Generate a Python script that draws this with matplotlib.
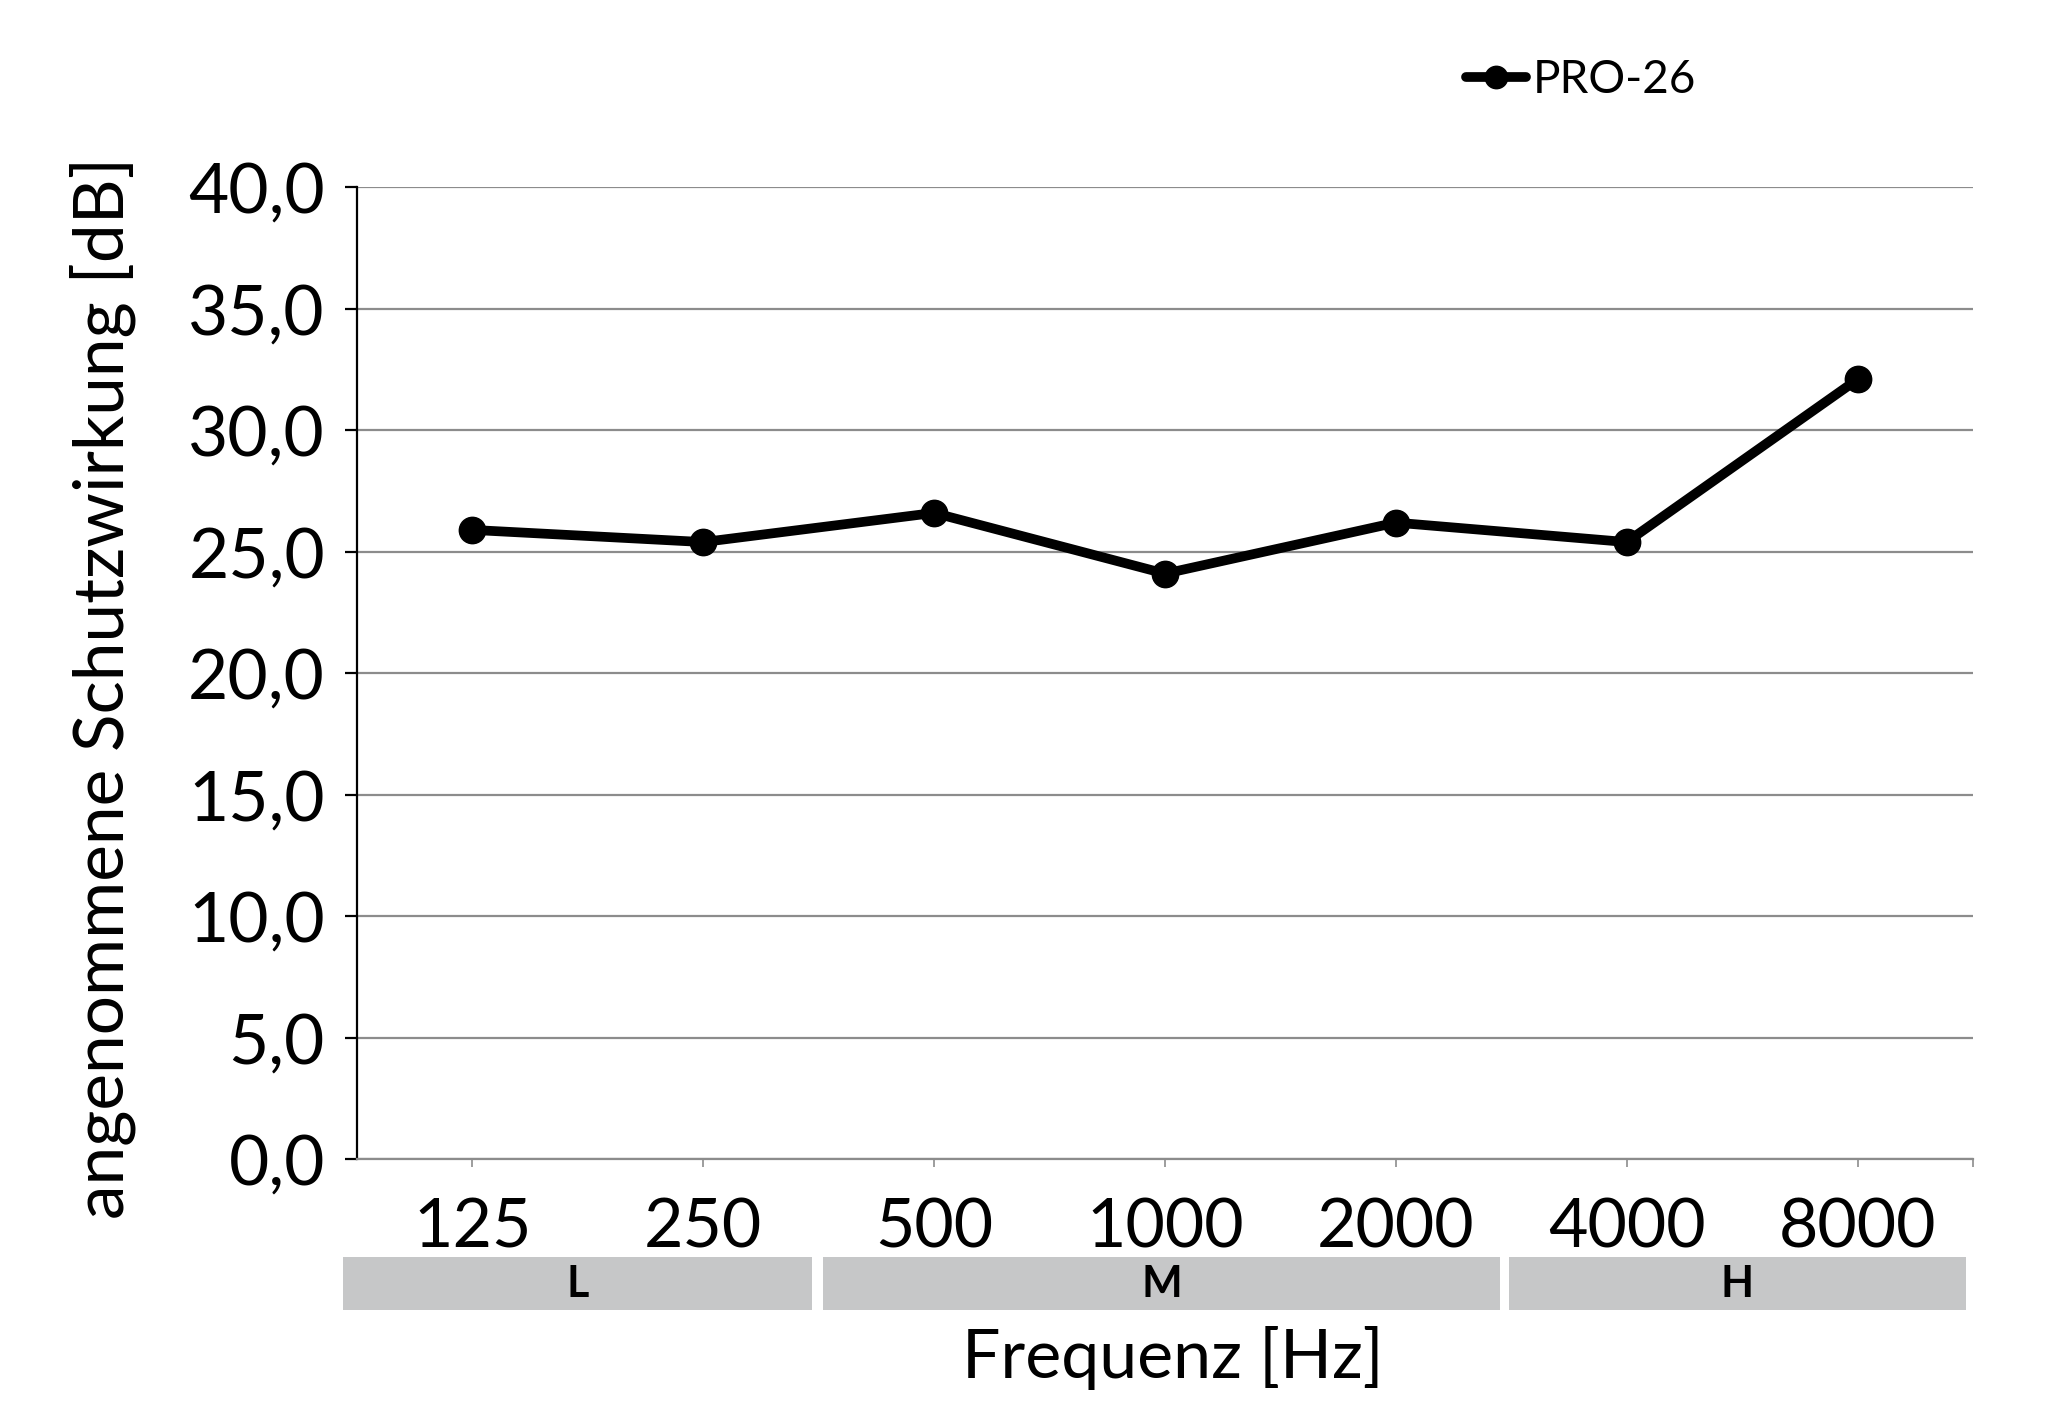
import matplotlib
matplotlib.use("Agg")
import matplotlib.pyplot as plt
import matplotlib.transforms as mtransforms
from matplotlib.patches import Rectangle

plt.rcParams['font.family'] = ['Lato', 'DejaVu Sans']

categories = ["125", "250", "500", "1000", "2000", "4000", "8000"]
values = [25.9, 25.4, 26.6, 24.1, 26.2, 25.4, 32.1]
series_name = "PRO-26"
y_ticks = [0, 5, 10, 15, 20, 25, 30, 35, 40]
y_tick_labels = ["0,0", "5,0", "10,0", "15,0", "20,0", "25,0", "30,0", "35,0", "40,0"]
band_labels = ["L", "M", "H"]
band_edges = [(-0.56, 1.47), (1.52, 4.45), (4.49, 6.47)]

fig = plt.figure(figsize=(20.67, 14.17), dpi=100)
ax = fig.add_axes([0.1727, 0.1821, 0.9545 - 0.1727, 0.8677 - 0.1821])

x = list(range(len(categories)))
ax.plot(x, values, color="black", lw=7, marker="o", ms=19, solid_joinstyle="round",
        solid_capstyle="round", label=series_name, zorder=3)

ax.set_xlim(-0.5, len(categories) - 0.5)
ax.set_ylim(0, 40)
ax.set_yticks(y_ticks)
ax.set_yticklabels(y_tick_labels)
ax.set_xticks(x)
ax.set_xticklabels(categories)
ax.set_xticks([len(categories) - 0.5], minor=True)

ax.grid(axis="y", color="#8c8c8c", lw=1.6, zorder=0)
ax.set_axisbelow(True)
for s in ["top", "right"]:
    ax.spines[s].set_visible(False)
ax.spines["left"].set_color("black")
ax.spines["left"].set_linewidth(1.6)
ax.spines["bottom"].set_color("#8c8c8c")
ax.spines["bottom"].set_linewidth(1.6)

ax.tick_params(axis="y", direction="out", length=9, width=1.6, color="black",
               labelsize=50, pad=14)
ax.tick_params(axis="x", which="both", direction="out", length=6, width=1.2, color="#8c8c8c",
               labelsize=49, pad=22)

ax.set_ylabel("angenommene Schutzwirkung [dB]", fontsize=50)
ax.yaxis.set_label_coords(-0.137, 0.485)

# frequency band boxes
trans = mtransforms.blended_transform_factory(ax.transData, fig.transFigure)
for lab, (x0, x1) in zip(band_labels, band_edges):
    r = Rectangle((x0, 0.0755), x1 - x0, 0.1129 - 0.0755, transform=trans,
                  facecolor="#c6c7c8", edgecolor="none", clip_on=False)
    fig.add_artist(r)
    t = fig.text((x0 + x1) / 2, (0.0755 + 0.1129) / 2, lab, transform=trans,
                 fontsize=31, fontweight="bold", ha="center", va="center")

fig.text(1173 / 2067, 1 - 1358 / 1417, "Frequenz [Hz]", fontsize=49, ha="center", va="center")

leg = fig.legend(loc="center left", bbox_to_anchor=(1425 / 2067, 1 - 80 / 1417), frameon=False,
                 fontsize=33, handlelength=1.3, handletextpad=0.15, markerscale=0.85)
for h in leg.legend_handles:
    h.set_linewidth(7)

fig.savefig("out.png", dpi=100, facecolor="white")
